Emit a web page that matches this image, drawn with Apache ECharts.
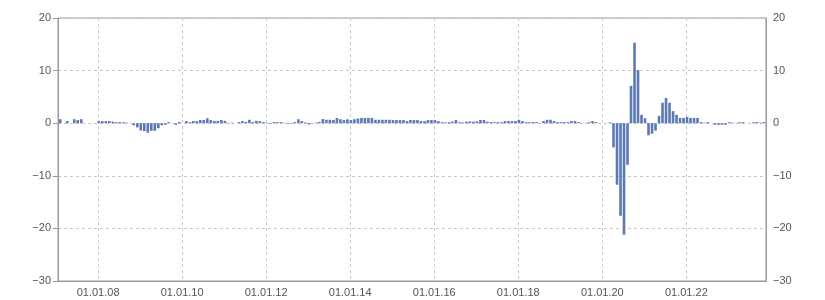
<!DOCTYPE html>
<html><head><meta charset="utf-8">
<script src="https://cdn.jsdelivr.net/npm/echarts@6/dist/echarts.min.js"></script>
<style>html,body{margin:0;padding:0;background:#fff}#c{width:825px;height:300px}</style>
</head><body><div id="c"></div>
<script>
const months = [
'2007-02','2007-04','2007-06','2007-07','2007-08',
'2008-01','2008-02','2008-03','2008-04','2008-05','2008-06','2008-07','2008-08','2008-09','2008-11','2008-12',
'2009-01','2009-02','2009-03','2009-04','2009-05','2009-06','2009-07','2009-08','2009-09','2009-11','2009-12',
'2010-02','2010-03','2010-04','2010-05','2010-06','2010-07','2010-08','2010-09','2010-10','2010-11','2010-12',
'2011-01','2011-02','2011-03','2011-05','2011-06','2011-07','2011-08','2011-09','2011-10','2011-11','2011-12',
'2012-01','2012-02','2012-03','2012-04','2012-05','2012-06','2012-07','2012-08','2012-09','2012-10','2012-11','2012-12',
'2013-01','2013-02','2013-03','2013-04','2013-05','2013-06','2013-07','2013-08','2013-09','2013-10','2013-11','2013-12',
'2014-01','2014-02','2014-03','2014-04','2014-05','2014-06','2014-07','2014-08','2014-09','2014-10','2014-11','2014-12',
'2015-01','2015-02','2015-03','2015-04','2015-05','2015-06','2015-07','2015-08','2015-09','2015-10','2015-11','2015-12',
'2016-01','2016-02','2016-03','2016-04','2016-05','2016-06','2016-07','2016-08','2016-09','2016-10','2016-11','2016-12',
'2017-01','2017-02','2017-03','2017-04','2017-05','2017-06','2017-07','2017-08','2017-09','2017-10','2017-11','2017-12',
'2018-01','2018-02','2018-03','2018-04','2018-05','2018-06','2018-07','2018-08','2018-09','2018-10','2018-11','2018-12',
'2019-01','2019-02','2019-03','2019-04','2019-05','2019-06','2019-07','2019-08','2019-09','2019-10','2019-11',
'2020-03','2020-04','2020-05','2020-06','2020-07','2020-08','2020-09','2020-10','2020-11','2020-12',
'2021-01','2021-02','2021-03','2021-04','2021-05','2021-06','2021-07','2021-08','2021-09','2021-10','2021-11','2021-12',
'2022-01','2022-02','2022-03','2022-04','2022-05','2022-06','2022-07','2022-09','2022-10','2022-11','2022-12',
'2023-01','2023-02','2023-03','2023-04','2023-05','2023-08','2023-09','2023-10','2023-11'
];
const values = [
0.75,0.4,0.75,0.6,0.75,
0.4,0.4,0.4,0.4,0.3,0.2,0.2,0.2,0.1,-0.4,-0.8,
-1.4,-1.5,-1.8,-1.45,-1.45,-0.95,-0.4,-0.3,0.2,-0.3,0.25,
0.4,0.2,0.4,0.4,0.6,0.6,0.95,0.6,0.45,0.45,0.6,
0.45,0.05,0.1,0.2,0.4,0.25,0.65,0.25,0.45,0.4,0.2,
0.1,-0.1,0.2,0.2,0.2,0.1,-0.1,-0.1,0.2,0.75,0.4,0.15,
-0.25,0.05,0.1,0.25,0.8,0.65,0.65,0.6,1.0,0.75,0.6,0.75,
0.6,0.75,0.9,1.0,1.0,1.0,1.0,0.65,0.65,0.65,0.65,0.65,
0.6,0.6,0.6,0.6,0.4,0.6,0.6,0.6,0.4,0.4,0.6,0.6,
0.6,0.4,0.2,0.15,0.2,0.3,0.6,0.2,0.15,0.3,0.35,0.3,
0.35,0.6,0.6,0.3,0.2,0.2,0.2,0.2,0.4,0.4,0.4,0.4,
0.65,0.4,0.2,0.2,0.2,0.2,0.05,0.4,0.65,0.65,0.4,0.2,
0.2,0.2,0.2,0.4,0.4,0.2,-0.05,-0.05,0.2,0.4,0.2,
0.15,-4.6,-11.7,-17.6,-21.2,-7.9,7.1,15.3,10.1,1.6,
0.95,-2.3,-2.0,-1.4,1.4,3.9,4.8,3.9,2.3,1.6,1.0,1.0,
1.2,1.0,1.0,1.0,0.2,0.1,0.2,-0.3,-0.3,-0.3,-0.3,
0.2,0.1,0.05,0.2,0.2,0.2,0.2,0.1,0.2
];
const tickYears = [2008,2010,2012,2014,2016,2018,2020,2022];
const tickLabels = ['01.01.08','01.01.10','01.01.12','01.01.14','01.01.16','01.01.18','01.01.20','01.01.22'];

// x axis unit: months since Jan 2000 (each value placed on the 7th of its month)
const monthNum = s => { const p = s.split('-'); return (+p[0] - 2000) * 12 + (+p[1] - 1); };
const tickPos = tickYears.map(y => (y - 2000) * 12);
const data = months.map((m,i) => [monthNum(m) + 0.2, values[i]]);
const fmtY = v => v < 0 ? '\u2212' + Math.abs(v) : String(v);
const lblFont = {color:'#555', fontSize:11, fontFamily:'Liberation Sans, Arial, sans-serif'};

const chart = echarts.init(document.getElementById('c'), null, {renderer:'canvas'});
chart.setOption({
  animation:false,
  grid:{left:58, right:59, top:18, bottom:19, show:true, borderColor:'#999', borderWidth:1},
  xAxis:{
    type:'value', min:84.55, max:286.75,
    axisLine:{show:true, onZero:false, lineStyle:{color:'#999'}},
    axisTick:{show:false, customValues:tickPos},
    axisLabel:Object.assign({customValues:tickPos, margin:6,
      formatter:v => { const i = tickPos.indexOf(v); return i >= 0 ? tickLabels[i] : ''; }}, lblFont),
    splitLine:{show:true, lineStyle:{color:'#c8c8c8', type:[3,3]}}
  },
  yAxis:[{
    type:'value', min:-30, max:20, interval:10, position:'left',
    axisLine:{show:true, lineStyle:{color:'#999'}},
    axisTick:{show:true, length:5, lineStyle:{color:'#999'}},
    axisLabel:Object.assign({formatter:fmtY, margin:7}, lblFont),
    splitLine:{show:true, lineStyle:{color:'#c8c8c8', type:[3,3]}}
  },{
    type:'value', min:-30, max:20, interval:10, position:'right',
    axisLine:{show:true, lineStyle:{color:'#999'}},
    axisTick:{show:false},
    axisLabel:Object.assign({formatter:fmtY, margin:7}, lblFont),
    splitLine:{show:false}
  }],
  series:[{
    type:'bar', yAxisIndex:0, data:data, barWidth:2.6,
    itemStyle:{color:'#5b79b4'}
  }]
});
</script></body></html>
